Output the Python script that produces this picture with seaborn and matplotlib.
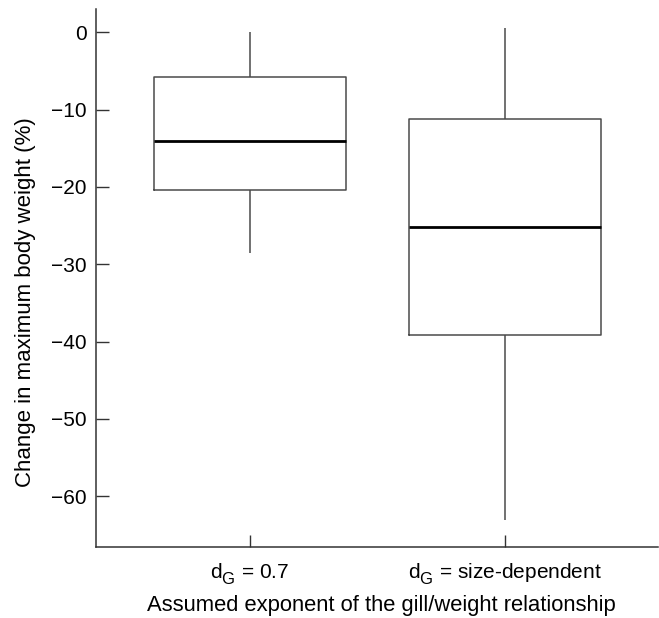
import numpy as np
import pandas as pd
import matplotlib
matplotlib.use("Agg")
import matplotlib.pyplot as plt
import seaborn as sns

# subscript bigger and lower, as in the reference labels
try:
    import matplotlib._mathtext as _mt
    _mt.SHRINK_FACTOR = 0.8
    _mt.FontConstantsBase.sub1 = 0.5
    _mt.FontConstantsBase.sub2 = 0.6
except Exception:
    pass

# five-number summaries (min, q1, median, q3, max)
groups = [r"d$_\mathregular{G}$ = 0.7", r"d$_\mathregular{G}$ = size-dependent"]
fixed_exp = [-28.6, -20.4, -14.1, -5.75, 0.0]
size_dep = [-63.1, -39.2, -25.2, -11.26, 0.6]
yticks = [0, -10, -20, -30, -40, -50, -60]

df = pd.DataFrame({
    "group": [groups[0]] * len(fixed_exp) + [groups[1]] * len(size_dep),
    "change": fixed_exp + size_dep,
})

sns.set_style("ticks")
plt.rcParams['font.family'] = ['Liberation Sans', 'DejaVu Sans']
plt.rcParams['mathtext.fontset'] = 'custom'
plt.rcParams['mathtext.rm'] = 'Liberation Sans'
plt.rcParams['text.color'] = 'black'
plt.rcParams['axes.labelcolor'] = 'black'
plt.rcParams['xtick.color'] = 'black'
plt.rcParams['ytick.color'] = 'black'

fig = plt.figure(figsize=(6.59, 6.18), dpi=100)
ax = fig.add_axes([0.1457, 0.1144, 0.8528, 0.871])

edge = '#4a4a4a'
sns.boxplot(data=df, x="group", y="change", order=groups, whis=np.inf,
            width=0.75, showcaps=False, fill=False, color=edge, linewidth=1.1,
            medianprops=dict(color='black', linewidth=2.0),
            whiskerprops=dict(color=edge, linewidth=1.1),
            ax=ax)

ax.set_xlim(-0.604, 1.6)
ax.set_ylim(-66.6, 3.0)
ax.set_yticks(yticks)
ax.set_yticklabels(["0"] + ["\u2212%d" % abs(v) for v in yticks[1:]])
ax.tick_params(direction='in', length=9, width=1, color='#333333', labelsize=15)
ax.tick_params(axis='x', pad=10)
ax.tick_params(axis='y', pad=6.5)
for s in ['top', 'right']:
    ax.spines[s].set_visible(False)
for s in ['left', 'bottom']:
    ax.spines[s].set_color('#333333')
    ax.spines[s].set_linewidth(1.1)

ax.set_xlabel("Assumed exponent of the gill/weight relationship", fontsize=15.8)
ax.set_ylabel("Change in maximum body weight (%)", fontsize=16)
ax.xaxis.set_label_coords(0.507, -0.0895)
ax.yaxis.set_label_coords(-0.1068, 0.4557)

fig.savefig("out.png", dpi=100)
